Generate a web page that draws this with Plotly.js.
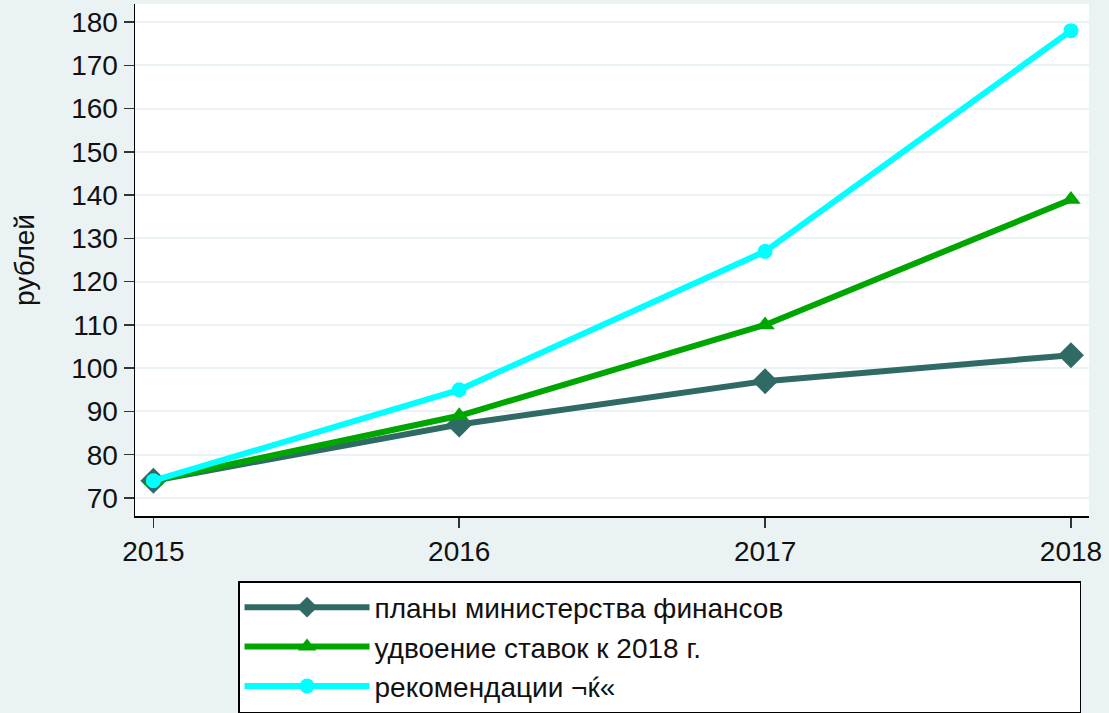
<!DOCTYPE html>
<html>
<head>
<meta charset="utf-8">
<script src="https://cdn.plot.ly/plotly-3.0.1.min.js"></script>
<style>html,body{margin:0;padding:0;background:#eaf2f3;}#chart{width:1109px;height:713px;}</style>
</head>
<body>
<div id="chart"></div>
<script>
const years = [2015, 2016, 2017, 2018];
const seriesNames = ["планы министерства финансов", "удвоение ставок к 2018 г.", "рекомендации ¬ќ«"];
const minfinPlan = [74, 87, 97, 103];
const doubling = [74, 89, 110, 139];
const recommend = [74, 95, 127, 178];
const yTicks = [70, 80, 90, 100, 110, 120, 130, 140, 150, 160, 170, 180];

const font = "Liberation Sans, Arial, sans-serif";
const fs = 28;
const traces = [
  {x: years, y: minfinPlan, name: seriesNames[0], mode: "lines+markers",
   line: {color: "#2f6b64", width: 6}, marker: {symbol: "diamond", size: 20, color: "#2f6b64"}},
  {x: years, y: doubling, name: seriesNames[1], mode: "lines+markers",
   line: {color: "#00a600", width: 6}, marker: {symbol: "triangle-up", size: 17, color: "#00a600"}},
  {x: years, y: recommend, name: seriesNames[2], mode: "lines+markers",
   line: {color: "#00ffff", width: 6}, marker: {symbol: "circle", size: 15, color: "#00ffff"}}
];
const layout = {
  width: 1109, height: 713,
  paper_bgcolor: "#eaf2f3", plot_bgcolor: "#ffffff",
  margin: {l: 135, r: 20, t: 4, b: 197, autoexpand: false},
  font: {family: font, size: fs, color: "#111"},
  showlegend: true,
  xaxis: {range: [2014.94, 2018.059], tickvals: years, ticktext: years.map(String),
    showgrid: false, zeroline: false, showline: true, linecolor: "#000", linewidth: 1.5,
    ticks: "outside", ticklen: 10, tickcolor: "#333", tickwidth: 1.5,
    tickfont: {family: font, size: fs, color: "#111"}},
  yaxis: {range: [65.84, 184.16], tickvals: yTicks,
    showgrid: true, gridcolor: "#eaf2f3", gridwidth: 2, zeroline: false,
    showline: true, linecolor: "#000", linewidth: 1.5,
    ticks: "outside", ticklen: 10, tickcolor: "#333", tickwidth: 1.5,
    tickfont: {family: font, size: fs, color: "#111"},
    title: {text: "рублей", font: {family: font, size: fs, color: "#111"}, standoff: 28}},
  legend: {orientation: "h", x: 0.108, xanchor: "left", y: -0.127, yanchor: "top",
    bgcolor: "#ffffff", bordercolor: "#000", borderwidth: 1.5,
    entrywidth: 700, tracegroupgap: 0, itemwidth: 125,
    font: {family: font, size: fs, color: "#111"}}
};
Plotly.newPlot("chart", traces, layout, {displayModeBar: false, staticPlot: true});
</script>
</body>
</html>
